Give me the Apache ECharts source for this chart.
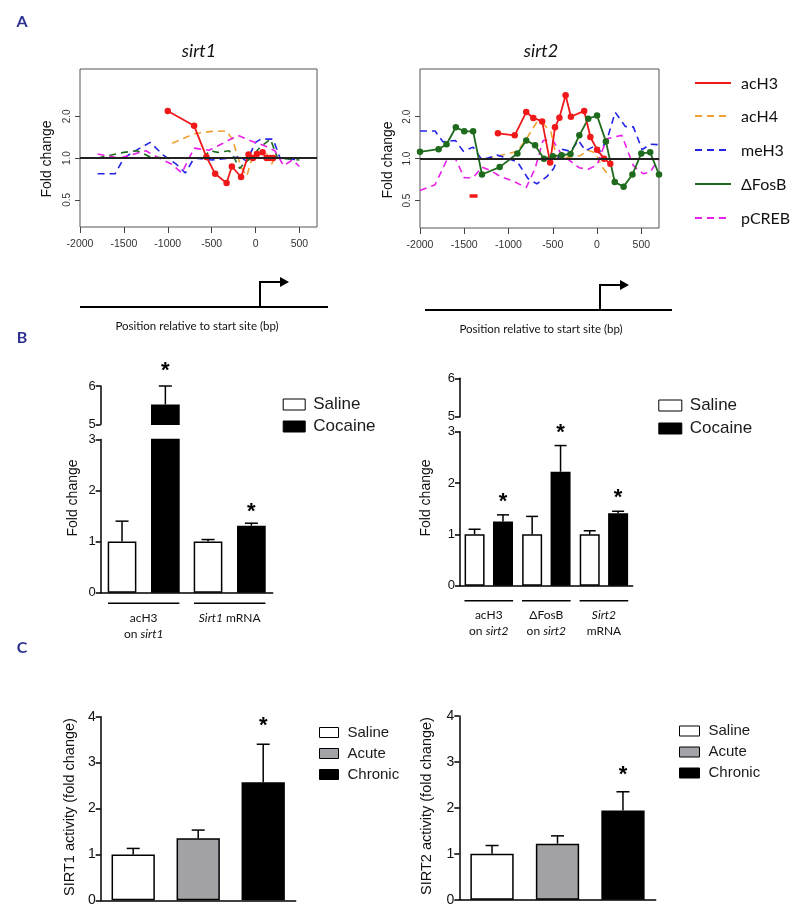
<!DOCTYPE html>
<html><head><meta charset="utf-8">
<script src="https://cdn.jsdelivr.net/npm/echarts@6/dist/echarts.min.js"></script>
<style>html,body{margin:0;padding:0;background:#fff}#c{width:800px;height:917px}</style>
</head><body><div id="c"></div><script>
// ---------- Panel A data: [position (bp), fold change] ----------
const posTicks = [-2000, -1500, -1000, -500, 0, 500];
const foldTicks = [0.5, 1, 2];
const markerNames = ['acH3', 'acH4', 'meH3', 'ΔFosB', 'pCREB'];

const s1_acH3 = [[-1000,2.19],[-700,1.71],[-560,1.02],[-460,0.77],[-330,0.66],[-270,0.87],[-165,0.73],[-80,1.06],[-30,1.0],[15,1.07],[80,1.1],[125,1.0],[165,1.0],[200,1.0]];
const s1_acH4 = [[-950,1.28],[-700,1.5],[-500,1.56],[-330,1.57],[-260,1.35],[-210,1.05],[-160,0.85],[-100,0.74],[-50,0.95],[30,1.08],[110,1.14],[180,0.9],[220,1.0]];
const s1_meH3 = [[-1800,0.77],[-1600,0.77],[-1500,1.0],[-1400,1.1],[-1200,1.3],[-1050,1.05],[-900,0.9],[-800,0.78],[-700,1.0],[-500,0.97],[-300,1.0],[-180,1.02],[-100,0.95],[0,1.3],[60,1.37],[200,1.37],[280,1.0],[500,0.97]];
const s1_FosB = [[-1800,1.0],[-1500,1.1],[-1350,1.13],[-1200,1.02],[-1000,1.0],[-800,1.0],[-600,1.0],[-520,1.13],[-430,1.1],[-300,1.13],[-250,1.02],[-180,0.84],[-130,0.92],[-50,1.0],[50,1.2],[170,1.37],[250,1.0],[500,0.97]];
const s1_pCREB = [[-1800,1.07],[-1550,1.0],[-1250,1.13],[-1100,1.0],[-950,0.9],[-840,0.78],[-700,1.18],[-530,1.14],[-370,1.28],[-200,1.46],[-50,1.33],[100,1.23],[220,1.13],[320,0.88],[420,0.97],[500,0.87]];

const s2_acH3 = [[-1120,1.52],[-930,1.47],[-800,2.16],[-720,1.96],[-620,1.85],[-530,0.94],[-475,1.68],[-425,1.97],[-355,2.85],[-295,2.0],[-145,2.2],[-75,1.43],[0,1.16],[80,1.0],[150,0.92]];
const s2_acH4 = [[-1250,1.0],[-1050,1.07],[-900,1.13],[-800,1.38],[-680,1.83],[-600,1.76],[-520,1.55],[-470,1.1],[-440,1.0],[-300,1.03],[-190,1.05],[-100,1.15],[-20,1.1],[70,0.85],[150,0.74]];
const s2_meH3 = [[-2000,1.58],[-1830,1.58],[-1740,1.32],[-1600,1.35],[-1510,1.13],[-1400,1.21],[-1300,0.98],[-1130,1.06],[-1000,1.0],[-900,0.95],[-780,0.72],[-680,0.66],[-570,0.74],[-490,0.85],[-400,1.17],[-300,1.13],[-210,1.35],[-130,1.14],[-40,1.22],[20,1.1],[110,1.35],[205,2.15],[320,1.7],[410,1.69],[510,1.16],[600,1.27],[700,1.26]];
const s2_FosB = [[-2000,1.12],[-1790,1.17],[-1700,1.27],[-1595,1.68],[-1500,1.57],[-1400,1.57],[-1300,0.77],[-1100,0.87],[-900,1.09],[-800,1.35],[-700,1.25],[-600,1.0],[-500,1.04],[-400,1.06],[-300,1.08],[-200,1.47],[-100,1.93],[0,2.04],[100,1.33],[200,0.68],[300,0.63],[400,0.77],[500,1.09],[600,1.11],[700,0.77]];
const s2_pCREB = [[-2000,0.59],[-1830,0.65],[-1700,0.97],[-1600,1.0],[-1500,0.73],[-1400,0.73],[-1300,0.87],[-1200,0.82],[-1100,0.75],[-950,0.69],[-800,0.62],[-700,0.85],[-610,1.35],[-500,1.36],[-420,1.12],[-320,0.98],[-200,0.86],[-100,0.84],[0,0.9],[110,1.39],[280,1.47],[410,0.89],[520,0.78],[600,0.8],[700,1.0]];
const s2_mark = [[-1440,0.54],[-1350,0.54]];

// ---------- Panel B data ----------
const catsB1 = ['acH3 on sirt1', 'Sirt1 mRNA'];
const salineB1 = [1.0, 1.0];
const salineErrB1 = [1.40, 1.04];
const cocaineB1 = [5.52, 1.31];
const cocaineErrB1 = [6.0, 1.36];
const cocaineSigB1 = [true, true];

const catsB2 = ['acH3 on sirt2', 'ΔFosB on sirt2', 'Sirt2 mRNA'];
const salineB2 = [1.0, 1.0, 1.0];
const salineErrB2 = [1.10, 1.35, 1.07];
const cocaineB2 = [1.25, 2.22, 1.41];
const cocaineErrB2 = [1.38, 2.73, 1.45];
const cocaineSigB2 = [true, true, true];

const lowerTicksB = [0, 1, 2, 3];
const upperTicksB = [5, 6];

// ---------- Panel C data ----------
const catsC = ['Saline', 'Acute', 'Chronic'];
const sirt1Act = [1.0, 1.35, 2.57];
const sirt1ActErr = [1.13, 1.53, 3.40];
const sirt1Sig = [false, false, true];
const sirt2Act = [1.0, 1.22, 1.94];
const sirt2ActErr = [1.18, 1.39, 2.35];
const sirt2Sig = [false, false, true];

// ---------- styling ----------
const COL = {acH3:'#f01818', acH4:'#f0a030', meH3:'#2424e8', 'ΔFosB':'#1e6b1e', pCREB:'#e820e8'};
const ARIAL = '"Liberation Sans", Arial, sans-serif';
const CAL = 'Lato, "Open Sans", sans-serif';
const BLUE = '#2e3192';

const chart = echarts.init(document.getElementById('c'), null, {renderer:'canvas'});

const grids = [
  {left:80, top:69, width:237, height:158, show:true, borderColor:'#555', borderWidth:1, backgroundColor:'transparent'},
  {left:420, top:69, width:239, height:159, show:true, borderColor:'#555', borderWidth:1, backgroundColor:'transparent'},
  {left:100.7, top:386, width:172, height:38.3},
  {left:100.7, top:439.4, width:172, height:153.3},
  {left:460, top:378.3, width:172.7, height:38.4},
  {left:460, top:431.7, width:172.7, height:154},
  {left:100.7, top:716.7, width:195, height:183.6},
  {left:459.3, top:716, width:196.4, height:183.7}
];

const xAxes = [], yAxes = [];
// Panel A axes
[0,1].forEach(g => {
  xAxes.push({type:'value', gridIndex:g, min:-2000, max:700, position:'bottom',
    axisLine:{show:false, onZero:false}, splitLine:{show:false},
    axisTick:{show:true, customValues:posTicks, length:6, lineStyle:{color:'#444', width:1}},
    axisLabel:{customValues:posTicks, margin:12, formatter:v => String(v),
      fontFamily:'"Liberation Sans Narrow", "Liberation Sans", sans-serif', fontSize:10.5, color:'#333'}});
  yAxes.push({type:'log', logBase:2, gridIndex:g, min:0.318, max:4.4, position:'left',
    axisLine:{show:false, onZero:false}, splitLine:{show:false},
    axisTick:{show:true, customValues:foldTicks, length:5, lineStyle:{color:'#444', width:1}},
    axisLabel:{customValues:foldTicks, rotate:90, margin:8, formatter:v => Number(v).toFixed(1),
      fontFamily:'"Liberation Sans Narrow", "Liberation Sans", sans-serif', fontSize:10, color:'#333'}});
});
// Panel B axes (broken y axis: upper 5-6, lower 0-3)
function catAxis(g, cats, showLine, labels){
  return {type:'category', gridIndex:g, data:cats, show:showLine,
    axisLine:{show:showLine, lineStyle:{color:'#000', width:1.5}}, axisTick:{show:false},
    axisLabel:{show:!!labels, margin:labels ? labels.margin : 8, interval:0,
      formatter:(v, i) => labels ? labels.text[i] : '',
      rich:{n:{fontFamily:CAL, fontSize:12, color:'#111', lineHeight:16},
            i:{fontFamily:CAL, fontSize:12, fontStyle:'italic', color:'#111', lineHeight:16}}}};
}
function valAxis(g, min, max, fontSize){
  return {type:'value', gridIndex:g, min, max, interval:1,
    axisLine:{show:true, lineStyle:{color:'#000', width:1.5}}, splitLine:{show:false},
    axisTick:{show:true, length:5, lineStyle:{color:'#000', width:1.5}},
    axisLabel:{margin:5, fontFamily:ARIAL, fontSize, color:'#111'}};
}
const labB1 = {margin:17, text:['{n|acH3}\n{n|on }{i|sirt1}', '{i|Sirt1}{n| mRNA}']};
const labB2 = {margin:21, text:['{n|acH3}\n{n|on }{i|sirt2}', '{n|ΔFosB}\n{n|on }{i|sirt2}', '{i|Sirt2}\n{n|mRNA}']};
xAxes.push(catAxis(2, catsB1, false, null));
xAxes.push(catAxis(3, catsB1, true, labB1));
xAxes.push(catAxis(4, catsB2, false, null));
xAxes.push(catAxis(5, catsB2, true, labB2));
yAxes.push(valAxis(2, upperTicksB[0], upperTicksB[1], 13));
yAxes.push(valAxis(3, lowerTicksB[0], lowerTicksB[3], 13));
yAxes.push(valAxis(4, upperTicksB[0], upperTicksB[1], 13));
yAxes.push(valAxis(5, lowerTicksB[0], lowerTicksB[3], 13));
// Panel C axes
xAxes.push(catAxis(6, catsC, true, null));
xAxes.push(catAxis(7, catsC, true, null));
yAxes.push(valAxis(6, 0, 4, 14));
yAxes.push(valAxis(7, 0, 4, 14));

const series = [];

// ----- Panel B bars -----
const barWB1 = 28.7, gapB1 = 0.51, barWB2 = 20, gapB2 = 0.42;
function bar(name, data, g, fill, w, gap){
  return {type:'bar', name, xAxisIndex:g, yAxisIndex:g, data, barWidth:w, barGap:(gap*100)+'%',
    itemStyle:{color:fill, borderColor:'#000', borderWidth:1.5}, clip:true, z:2,
    animation:false, emphasis:{disabled:true}};
}
const upperOnly = arr => arr.map(v => v >= upperTicksB[0] ? v : '-');
series.push(bar('Saline', salineB1, 3, '#ffffff', barWB1, gapB1));
series.push(bar('Cocaine', cocaineB1, 3, '#000000', barWB1, gapB1));
series.push(bar('Saline', upperOnly(salineB1), 2, '#ffffff', barWB1, gapB1));
series.push(bar('Cocaine', upperOnly(cocaineB1), 2, '#000000', barWB1, gapB1));
series.push(bar('Saline', salineB2, 5, '#ffffff', barWB2, gapB2));
series.push(bar('Cocaine', cocaineB2, 5, '#000000', barWB2, gapB2));
series.push(bar('Saline', upperOnly(salineB2), 4, '#ffffff', barWB2, gapB2));
series.push(bar('Cocaine', upperOnly(cocaineB2), 4, '#000000', barWB2, gapB2));

// ----- Panel C bars (one bar per category, overlapping slots) -----
const cFill = ['#ffffff', '#a3a3a7', '#000000'];
function oneHot(vals, k){ return vals.map((v, j) => j === k ? v : '-'); }
catsC.forEach((name, k) => {
  series.push(bar(name, oneHot(sirt1Act, k), 6, cFill[k], 43.3, -1));
  series.push(bar(name, oneHot(sirt2Act, k), 7, cFill[k], 43.3, -1));
});

// ----- error bars + significance stars -----
function errSeries(g, vals, errs, sigs, offset, lo, hi, capW, sigGap){
  const data = [];
  vals.forEach((v, i) => { if (v >= lo && v <= hi) data.push([i, v, errs[i], sigs && sigs[i] ? 1 : 0]); });
  return {type:'custom', xAxisIndex:g, yAxisIndex:g, data, z:5, silent:true, clip:false, animation:false,
    renderItem(params, api){
      const i = api.value(0);
      const b = api.coord([i, api.value(1)]);
      const t = api.coord([i, api.value(2)]);
      const cx = b[0] + offset;
      const ch = [
        {type:'line', shape:{x1:cx, y1:b[1], x2:cx, y2:t[1]}, style:{stroke:'#000', lineWidth:1.5}},
        {type:'line', shape:{x1:cx - capW/2, y1:t[1], x2:cx + capW/2, y2:t[1]}, style:{stroke:'#000', lineWidth:1.5}}
      ];
      if (api.value(3)) ch.push({type:'text', style:{text:'*', x:cx, y:t[1] - sigGap, align:'center', verticalAlign:'middle',
        font:'bold 22px ' + ARIAL, fill:'#000'}});
      return {type:'group', children:ch};
    }};
}
const offB1 = barWB1 * (1 + gapB1) / 2, offB2 = barWB2 * (1 + gapB2) / 2;
series.push(errSeries(3, salineB1, salineErrB1, null, -offB1, 0, 3, 13, 14));
series.push(errSeries(3, cocaineB1, cocaineErrB1, cocaineSigB1, offB1, 0, 3, 13, 11));
series.push(errSeries(2, cocaineB1, cocaineErrB1, cocaineSigB1, offB1, 5, 6, 13, 15));
series.push(errSeries(5, salineB2, salineErrB2, null, -offB2, 0, 3, 12, 14));
series.push(errSeries(5, cocaineB2, cocaineErrB2, cocaineSigB2, offB2, 0, 3, 12, 13));
series.push(errSeries(6, sirt1Act, sirt1ActErr, sirt1Sig, 0, 0, 4, 13, 18));
series.push(errSeries(7, sirt2Act, sirt2ActErr, sirt2Sig, 0, 0, 4, 13, 17));

// ----- group underlines for panel B -----
function groupLines(g, cats, frac, dy){
  return {type:'custom', xAxisIndex:g, yAxisIndex:g, data:cats.map((c, i) => [i, 0]), clip:false, silent:true, animation:false,
    renderItem(params, api){
      const c = api.coord([api.value(0), 0]);
      const w = api.size([1, 0])[0] * frac;
      return {type:'line', shape:{x1:c[0] - w/2, y1:c[1] + dy, x2:c[0] + w/2, y2:c[1] + dy}, style:{stroke:'#000', lineWidth:1.5}};
    }};
}
series.push(groupLines(3, catsB1, 0.83, 10.6));
series.push(groupLines(5, catsB2, 0.845, 15));

// ----- Panel A lines -----
function line(name, data, g, solid, extra){
  const color = COL[name];
  return Object.assign({type:'line', name:name + ' ' + g, xAxisIndex:g, yAxisIndex:g, data,
    lineStyle:{color, width:solid ? 1.8 : 1.6, type:solid ? 'solid' : [7, 5]},
    itemStyle:{color}, symbol:solid ? 'circle' : 'none', showSymbol:solid, symbolSize:6.5,
    z:solid ? 4 : 3, animation:false, emphasis:{disabled:true}, silent:true}, extra || {});
}
const oneLine = {markLine:{silent:true, symbol:['none','none'], label:{show:false}, animation:false,
  lineStyle:{color:'#222', width:2, type:'solid'}, data:[{yAxis:1}]}};
series.push(line('acH4', s1_acH4, 0, false, oneLine));
series.push(line('meH3', s1_meH3, 0, false));
series.push(line('ΔFosB', s1_FosB, 0, false));
series.push(line('pCREB', s1_pCREB, 0, false));
series.push(line('acH3', s1_acH3, 0, true));
series.push(line('acH4', s2_acH4, 1, false, oneLine));
series.push(line('meH3', s2_meH3, 1, false));
series.push(line('pCREB', s2_pCREB, 1, false));
series.push(line('ΔFosB', s2_FosB, 1, true));
series.push(line('acH3', s2_acH3, 1, true));
series.push({type:'line', name:'mark', xAxisIndex:1, yAxisIndex:1, data:s2_mark, symbol:'none',
  lineStyle:{color:COL.acH3, width:3.5}, silent:true, animation:false, z:4});

// ----- graphic texts / legend for panel A / gene diagrams -----
const gfx = [];
function txt(text, x, y, font, fill, extra){
  gfx.push(Object.assign({type:'text', x, y, silent:true,
    style:{text, font, fill:fill || '#111', align:'center', verticalAlign:'middle'}}, extra || {}));
}
txt('A', 22, 22, 'bold 16px ' + CAL, BLUE);
txt('B', 22, 338, 'bold 16px ' + CAL, BLUE);
txt('C', 22, 648, 'bold 16px ' + CAL, BLUE);
txt('sirt1', 199, 51, 'italic 18px ' + CAL, '#111');
txt('sirt2', 541, 51, 'italic 18px ' + CAL, '#111');
txt('Fold change', 47, 159, '14px ' + ARIAL, '#111', {rotation:Math.PI/2});
txt('Fold change', 388, 160, '14px ' + ARIAL, '#111', {rotation:Math.PI/2});
txt('Fold change', 73, 498, '14px ' + ARIAL, '#111', {rotation:Math.PI/2});
txt('Fold change', 426, 498, '14px ' + ARIAL, '#111', {rotation:Math.PI/2});
txt('SIRT1 activity (fold change)', 70, 807, '14.5px ' + ARIAL, '#111', {rotation:Math.PI/2});
txt('SIRT2 activity (fold change)', 427, 806, '14.5px ' + ARIAL, '#111', {rotation:Math.PI/2});
txt('Position relative to start site (bp)', 197, 326, '11.5px ' + CAL, '#111');
txt('Position relative to start site (bp)', 541, 329, '11.5px ' + CAL, '#111');

// panel A legend
const legY = [83, 116, 150, 184, 218];
markerNames.forEach((n, i) => {
  const dashed = (n === 'acH4' || n === 'meH3' || n === 'pCREB');
  gfx.push({type:'line', silent:true, shape:{x1:695, y1:legY[i], x2:731, y2:legY[i]},
    style:{stroke:COL[n], lineWidth:2.2, lineDash:dashed ? [7, 5] : null}});
  gfx.push({type:'text', silent:true, x:741, y:legY[i] + 1,
    style:{text:n, font:'16px ' + CAL, fill:'#111', align:'left', verticalAlign:'middle'}});
});
// gene diagrams with transcription-start arrows
function gene(x1, x2, y, ax){
  gfx.push({type:'line', silent:true, shape:{x1, y1:y, x2, y2:y}, style:{stroke:'#000', lineWidth:2}});
  gfx.push({type:'polyline', silent:true, shape:{points:[[ax, y], [ax, y - 25], [ax + 22, y - 25]]}, style:{stroke:'#000', lineWidth:2, fill:null}});
  gfx.push({type:'polygon', silent:true, shape:{points:[[ax + 20, y - 30], [ax + 29, y - 25], [ax + 20, y - 20]]}, style:{fill:'#000'}});
}
gene(80, 328, 307, 260);
gene(425, 672, 310, 600);

chart.setOption({
  animation:false,
  backgroundColor:'#fff',
  grid:grids,
  xAxis:xAxes,
  yAxis:yAxes,
  legend:[
    {data:['Saline','Cocaine'], left:277.7, top:391, orient:'vertical', icon:'rect', itemWidth:22, itemHeight:11, itemGap:5,
      itemStyle:{borderColor:'#000', borderWidth:1}, selectedMode:false,
      textStyle:{fontFamily:ARIAL, fontSize:17, color:'#1a1a1a', padding:[0,0,0,3]}},
    {data:['Saline','Cocaine'], left:653.3, top:392, orient:'vertical', icon:'rect', itemWidth:23, itemHeight:11, itemGap:6,
      itemStyle:{borderColor:'#000', borderWidth:1}, selectedMode:false,
      textStyle:{fontFamily:ARIAL, fontSize:17, color:'#1a1a1a', padding:[0,0,0,3]}},
    {data:catsC, left:314, top:720, orient:'vertical', icon:'rect', itemWidth:19, itemHeight:10, itemGap:6,
      itemStyle:{borderColor:'#000', borderWidth:1}, selectedMode:false,
      textStyle:{fontFamily:ARIAL, fontSize:15, color:'#1a1a1a', padding:[0,0,0,4]}},
    {data:catsC, left:674, top:718.5, orient:'vertical', icon:'rect', itemWidth:20, itemHeight:10, itemGap:6,
      itemStyle:{borderColor:'#000', borderWidth:1}, selectedMode:false,
      textStyle:{fontFamily:ARIAL, fontSize:15, color:'#1a1a1a', padding:[0,0,0,4]}}
  ],
  series,
  graphic:gfx
});
</script></body></html>
